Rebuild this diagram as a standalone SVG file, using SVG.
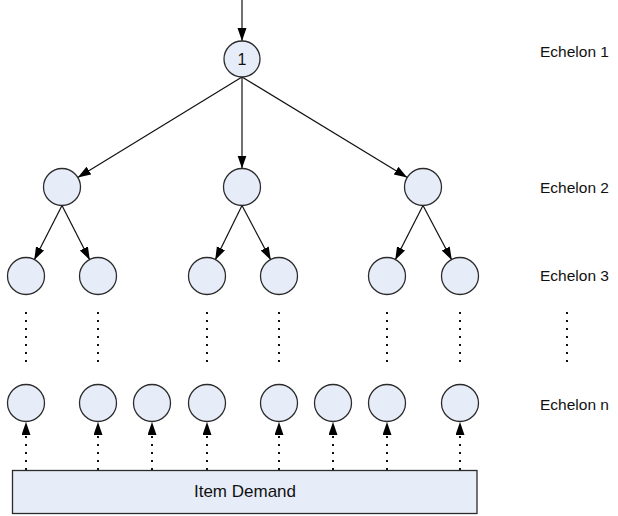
<svg xmlns="http://www.w3.org/2000/svg" width="618" height="516" viewBox="0 0 618 516">
<style>
.n{fill:#e7edf8;stroke:#2b2b2b;stroke-width:1.3}
.c{stroke:#111;stroke-width:1.2;fill:none}
.d{stroke:#111;stroke-width:2;stroke-dasharray:2 6;fill:none}
.t{font-family:"Liberation Sans",Arial,sans-serif;font-size:15.5px;fill:#111}
</style>
<defs>
<marker id="ah" markerUnits="userSpaceOnUse" markerWidth="14" markerHeight="10" refX="13" refY="4.5" orient="auto">
<path d="M0,0 L13,4.5 L0,9 z" fill="#000"/>
</marker>
</defs>
<rect width="618" height="516" fill="#fff"/>
<g id="connectors">
<line class="c" x1="242" y1="0" x2="242" y2="41" marker-end="url(#ah)"/>
<line class="c" x1="242" y1="77" x2="77.8" y2="177.4" marker-end="url(#ah)"/>
<line class="c" x1="242" y1="77" x2="242" y2="168.5" marker-end="url(#ah)"/>
<line class="c" x1="242" y1="77" x2="407.2" y2="177.4" marker-end="url(#ah)"/>
<line class="c" x1="62" y1="205.5" x2="34.2" y2="260" marker-end="url(#ah)"/>
<line class="c" x1="62" y1="205.5" x2="89.8" y2="260" marker-end="url(#ah)"/>
<line class="c" x1="242" y1="205.5" x2="215.2" y2="260" marker-end="url(#ah)"/>
<line class="c" x1="242" y1="205.5" x2="270.8" y2="260" marker-end="url(#ah)"/>
<line class="c" x1="423" y1="205.5" x2="395.2" y2="260" marker-end="url(#ah)"/>
<line class="c" x1="423" y1="205.5" x2="451.8" y2="260" marker-end="url(#ah)"/>
<line class="d" x1="26" y1="312" x2="26" y2="364"/>
<line class="d" x1="98" y1="312" x2="98" y2="364"/>
<line class="d" x1="207" y1="312" x2="207" y2="364"/>
<line class="d" x1="279" y1="312" x2="279" y2="364"/>
<line class="d" x1="387" y1="312" x2="387" y2="364"/>
<line class="d" x1="460" y1="312" x2="460" y2="364"/>
<line class="d" x1="567" y1="312" x2="567" y2="364"/>
<line class="d" x1="26" y1="470" x2="26" y2="422" marker-end="url(#ah)"/>
<line class="d" x1="98" y1="470" x2="98" y2="422" marker-end="url(#ah)"/>
<line class="d" x1="152" y1="470" x2="152" y2="422" marker-end="url(#ah)"/>
<line class="d" x1="207" y1="470" x2="207" y2="422" marker-end="url(#ah)"/>
<line class="d" x1="279" y1="470" x2="279" y2="422" marker-end="url(#ah)"/>
<line class="d" x1="333" y1="470" x2="333" y2="422" marker-end="url(#ah)"/>
<line class="d" x1="387" y1="470" x2="387" y2="422" marker-end="url(#ah)"/>
<line class="d" x1="460" y1="470" x2="460" y2="422" marker-end="url(#ah)"/>
</g>
<g id="node1"><circle class="n" cx="242" cy="59" r="18"/><text class="t" x="242" y="65" text-anchor="middle" style="font-size:16px">1</text></g>
<g id="e2a"><circle class="n" cx="62" cy="187" r="18.5"/></g>
<g id="e2b"><circle class="n" cx="242" cy="187" r="18.5"/></g>
<g id="e2c"><circle class="n" cx="423" cy="187" r="18.5"/></g>
<g id="e3a"><circle class="n" cx="26" cy="276" r="18.5"/></g>
<g id="e3b"><circle class="n" cx="98" cy="276" r="18.5"/></g>
<g id="e3c"><circle class="n" cx="207" cy="276" r="18.5"/></g>
<g id="e3d"><circle class="n" cx="279" cy="276" r="18.5"/></g>
<g id="e3e"><circle class="n" cx="387" cy="276" r="18.5"/></g>
<g id="e3f"><circle class="n" cx="460" cy="276" r="18.5"/></g>
<g id="ena"><circle class="n" cx="26" cy="403" r="18.5"/></g>
<g id="enb"><circle class="n" cx="98" cy="403" r="18.5"/></g>
<g id="enc"><circle class="n" cx="152" cy="403" r="18.5"/></g>
<g id="end"><circle class="n" cx="207" cy="403" r="18.5"/></g>
<g id="ene"><circle class="n" cx="279" cy="403" r="18.5"/></g>
<g id="enf"><circle class="n" cx="333" cy="403" r="18.5"/></g>
<g id="eng"><circle class="n" cx="387" cy="403" r="18.5"/></g>
<g id="enh"><circle class="n" cx="460" cy="403" r="18.5"/></g>
<g id="demand"><rect class="n" x="12.5" y="470.5" width="464.5" height="43"/><text class="t" x="245" y="497" text-anchor="middle" style="font-size:17px">Item Demand</text></g>
<g id="labels">
<text class="t" x="540" y="57">Echelon 1</text>
<text class="t" x="540" y="193">Echelon 2</text>
<text class="t" x="540" y="281">Echelon 3</text>
<text class="t" x="540" y="410">Echelon n</text>
</g>
</svg>
